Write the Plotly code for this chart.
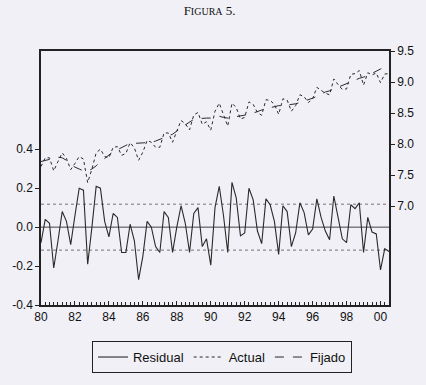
import plotly.graph_objects as go

# Quarterly observations 1980Q1 .. 2000Q3
start_year = 1980
n_obs = 83

residual = [-0.08, 0.04, 0.02, -0.21, -0.07, 0.08, 0.03, -0.09, 0.06, 0.20,
            0.19, -0.19, 0.00, 0.21, 0.20, 0.03, -0.05, 0.07, 0.05, -0.13,
            -0.13, 0.015, -0.07, -0.27, -0.15, 0.03, 0.00, -0.10, -0.13, 0.08,
            0.05, -0.13, 0.00, 0.11, 0.02, -0.13, 0.07, 0.10, -0.10, -0.06,
            -0.195, 0.10, 0.21, 0.06, -0.13, 0.23, 0.15, -0.045, -0.03, 0.20,
            0.14, -0.02, -0.085, 0.145, 0.115, 0.03, -0.14, 0.11, 0.08, -0.10,
            -0.03, 0.125, 0.075, -0.04, -0.01, 0.145, 0.05, -0.02, -0.065, 0.16,
            0.05, -0.06, -0.08, 0.115, 0.095, 0.125, -0.13, 0.05, -0.025, -0.035,
            -0.22, -0.11, -0.125]

fitted = [7.72, 7.74, 7.76, 7.78, 7.79, 7.78, 7.74, 7.68, 7.63, 7.60,
          7.57, 7.57, 7.60, 7.65, 7.72, 7.77, 7.83, 7.88, 7.91, 7.95,
          7.98, 8.01, 8.01, 8.01, 8.02, 8.03, 8.03, 8.05, 8.08, 8.10,
          8.13, 8.16, 8.21, 8.27, 8.31, 8.36, 8.40, 8.41, 8.42, 8.42,
          8.42, 8.43, 8.45, 8.43, 8.42, 8.43, 8.44, 8.45, 8.46, 8.48,
          8.50, 8.53, 8.55, 8.57, 8.59, 8.61, 8.62, 8.62, 8.63, 8.63,
          8.65, 8.67, 8.69, 8.71, 8.74, 8.77, 8.81, 8.84, 8.86, 8.89,
          8.91, 8.94, 8.97, 9.01, 9.04, 9.06, 9.08, 9.10, 9.14, 9.18,
          9.21, 9.24, 9.26]

actual = [7.64, 7.78, 7.78, 7.57, 7.72, 7.86, 7.77, 7.59, 7.69, 7.80,
          7.76, 7.38, 7.60, 7.86, 7.92, 7.80, 7.78, 7.95, 7.96, 7.82,
          7.85, 8.025, 7.94, 7.74, 7.87, 8.06, 8.03, 7.95, 7.95, 8.18,
          8.18, 8.03, 8.21, 8.38, 8.33, 8.23, 8.47, 8.51, 8.32, 8.36,
          8.225, 8.53, 8.66, 8.49, 8.29, 8.66, 8.59, 8.405, 8.43, 8.68,
          8.64, 8.51, 8.465, 8.715, 8.705, 8.64, 8.48, 8.73, 8.71, 8.53,
          8.62, 8.795, 8.765, 8.67, 8.73, 8.915, 8.86, 8.82, 8.795, 9.05,
          8.96, 8.88, 8.89, 9.125, 9.135, 9.185, 8.95, 9.15, 9.115, 9.145,
          8.99, 9.13, 9.135]

x_tickvals = [1980, 1982, 1984, 1986, 1988, 1990, 1992, 1994, 1996, 1998, 2000]
x_ticktext = ["80", "82", "84", "86", "88", "90", "92", "94", "96", "98", "00"]
left_ticks = [-0.4, -0.2, 0.0, 0.2, 0.4]
left_ticktext = ["-0.4", "-0.2", "0.0", "0.2", "0.4"]
right_ticks = [7.0, 7.5, 8.0, 8.5, 9.0, 9.5]
right_ticktext = ["7.0", "7.5", "8.0", "8.5", "9.0", "9.5"]
resid_se = 0.118

x = [start_year + i / 4 for i in range(n_obs)]

BG = "#f0f0f6"
INK = "#2a2a2a"

fig = go.Figure()
fig.add_trace(go.Scatter(x=x, y=residual, name="Residual", mode="lines",
                         line=dict(color=INK, width=1.1), yaxis="y"))
fig.add_trace(go.Scatter(x=x, y=actual, name="Actual", mode="lines",
                         line=dict(color=INK, width=1, dash="dot"), yaxis="y2"))
fig.add_trace(go.Scatter(x=x, y=fitted, name="Fijado", mode="lines",
                         line=dict(color=INK, width=1, dash="dash"), yaxis="y2"))

# zero line and +/- 1 S.E. lines on residual axis
fig.add_shape(type="line", xref="paper", x0=0, x1=1, yref="y", y0=0, y1=0,
              line=dict(color="#444", width=1), layer="below")
for v in (resid_se, -resid_se):
    fig.add_shape(type="line", xref="paper", x0=0, x1=1, yref="y", y0=v, y1=v,
                  line=dict(color="#555", width=0.8, dash="dot"), layer="below")

font_axis = dict(family="Liberation Sans, Arial, sans-serif", size=12, color="#111")

fig.update_layout(
    width=426, height=385,
    margin=dict(l=40, r=35, t=51, b=71),
    paper_bgcolor=BG, plot_bgcolor=BG,
    showlegend=True,
    title=dict(text="F<span style='font-size:10px'>IGURA</span> 5.",
               x=0.492, xanchor="center", y=0.973, yanchor="middle",
               font=dict(family="Liberation Serif, Times New Roman, serif", size=13, color="#111")),
    xaxis=dict(range=[1980, 2000.5], tickvals=x_tickvals, ticktext=x_ticktext,
               ticks="inside", ticklen=4, tickcolor="#222", showgrid=False, zeroline=False,
               showline=True, linecolor="#222", linewidth=1.5, mirror=True,
               tickfont=font_axis,
               minor=dict(dtick=0.25, tick0=1980, ticks="inside", ticklen=3, tickcolor="#222", showgrid=False)),
    yaxis=dict(range=[-0.4, 0.905], tickvals=left_ticks, ticktext=left_ticktext,
               ticks="outside", ticklen=4, tickcolor="#222", showgrid=False, zeroline=False,
               showline=True, linecolor="#222", linewidth=1.5, tickfont=font_axis),
    yaxis2=dict(range=[5.41, 9.5], tickvals=right_ticks, ticktext=right_ticktext,
                overlaying="y", side="right",
                ticks="outside", ticklen=4, tickcolor="#222", showgrid=False, zeroline=False,
                showline=True, linecolor="#222", linewidth=1.5, tickfont=font_axis),
    legend=dict(orientation="h", x=0.52, xanchor="center", y=-0.142, yanchor="top",
                bgcolor=BG, bordercolor="#222", borderwidth=1,
                font=dict(family="Liberation Sans, Arial, sans-serif", size=13, color="#111"),
                itemwidth=30, tracegroupgap=0),
)

fig.write_html("out.html", config={"displayModeBar": False},
               post_script="document.body.style.margin='0px';")
